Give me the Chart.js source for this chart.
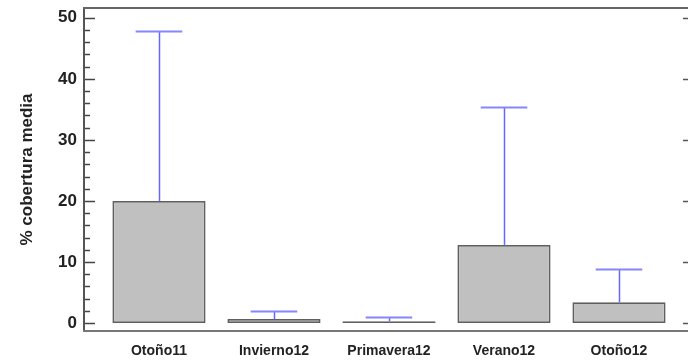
<!DOCTYPE html>
<html>
<head>
<meta charset="utf-8">
<script src="https://cdn.jsdelivr.net/npm/chart.js@4/dist/chart.umd.min.js"></script>
<style>
  html, body { margin: 0; padding: 0; background: #fff; }
  #wrap { width: 688px; height: 362px; }
</style>
</head>
<body>
<div id="wrap"><canvas id="c" width="688" height="362"></canvas></div>
<script>
// Seasons sampled
const categories = ['Otoño11', 'Invierno12', 'Primavera12', 'Verano12', 'Otoño12'];
// Mean cover (%) per season
const means = [20.0, 0.65, 0.3, 12.8, 3.4];
// Standard deviation drawn above each bar
const deviations = [27.9, 1.35, 0.7, 22.6, 5.45];
// Labelled ticks of the value axis
const yTicks = [0, 10, 20, 30, 40, 50];

const FONT = '"Liberation Sans", Arial, sans-serif';

// Frame, inward tick marks and error whiskers
const framePlugin = {
  id: 'frame',
  afterDatasetsDraw(chart) {
    const { ctx, chartArea: a, scales: { y } } = chart;
    const meta = chart.getDatasetMeta(0);

    ctx.save();
    // whiskers: stem from the bar top, cap half as wide as the bar
    meta.data.forEach((bar, i) => {
      const p = bar.getProps(['x', 'y', 'width'], true);
      const top = Math.round(y.getPixelForValue(means[i] + deviations[i])) + 0.5;
      const half = p.width / 4;
      ctx.strokeStyle = '#6666ff';
      ctx.lineWidth = 1.5;
      ctx.beginPath();
      ctx.moveTo(Math.round(p.x) + 0.5, p.y);
      ctx.lineTo(Math.round(p.x) + 0.5, top);
      ctx.stroke();
      ctx.strokeStyle = '#8585ff';
      ctx.lineWidth = 2;
      ctx.beginPath();
      ctx.moveTo(p.x - half, top);
      ctx.lineTo(p.x + half, top);
      ctx.stroke();
    });

    // tick marks on both vertical sides
    for (let v = 0; v <= 50; v += 2) {
      const py = Math.round(y.getPixelForValue(v)) + 0.5;
      const major = yTicks.includes(v);
      ctx.lineWidth = 1.5;
      ctx.strokeStyle = '#444';
      ctx.beginPath();
      ctx.moveTo(a.left, py);
      ctx.lineTo(a.left + (major ? 11 : 6), py);
      ctx.stroke();
      ctx.strokeStyle = major ? '#555' : '#bbb';
      ctx.beginPath();
      ctx.moveTo(a.right + 6, py);
      ctx.lineTo(a.right + 6 - (major ? 11 : 6), py);
      ctx.stroke();
    }

    // frame lines
    ctx.lineWidth = 2;
    ctx.strokeStyle = '#555';
    ctx.beginPath();
    ctx.moveTo(a.left, a.top);
    ctx.lineTo(a.left, a.bottom);
    ctx.stroke();
    ctx.strokeStyle = '#666';
    ctx.beginPath();
    ctx.moveTo(a.left - 1, a.top);
    ctx.lineTo(a.right, a.top);
    ctx.stroke();
    ctx.strokeStyle = '#777';
    ctx.beginPath();
    ctx.moveTo(a.left - 1, a.bottom);
    ctx.lineTo(a.right, a.bottom);
    ctx.stroke();
    ctx.restore();
  }
};

new Chart(document.getElementById('c'), {
  type: 'bar',
  data: {
    datasets: [{
      data: means.map((m, i) => ({ x: i, y: m })),
      backgroundColor: '#c0c0c0',
      borderColor: '#5f5f5f',
      borderWidth: 1.75,
      borderSkipped: false,
      categoryPercentage: 1,
      barPercentage: 0.81
    }]
  },
  options: {
    responsive: false,
    animation: false,
    layout: { padding: { top: 8, right: 0, bottom: 0, left: 0 } },
    plugins: { legend: { display: false }, tooltip: { enabled: false } },
    scales: {
      x: {
        type: 'linear',
        offset: false,
        min: -0.652,
        max: 4.6,
        afterFit(s) { s.height = 31; s.paddingLeft = 0; s.paddingRight = 0; },
        grid: { display: false, drawTicks: false },
        border: { display: false },
        ticks: {
          stepSize: 1,
          includeBounds: false,
          autoSkip: false,
          maxRotation: 0,
          padding: 12,
          color: '#222',
          font: { family: FONT, size: 14, weight: 'bold' },
          callback: v => Number.isInteger(v) ? categories[v] : ''
        }
      },
      y: {
        min: -1.3,
        max: 51.6,
        afterFit(s) { s.width = 84; s.paddingTop = 0; s.paddingBottom = 0; },
        afterBuildTicks(s) { s.ticks = yTicks.map(v => ({ value: v })); },
        grid: { display: false, drawTicks: false },
        border: { display: false },
        ticks: {
          autoSkip: false,
          padding: 7,
          color: '#222',
          font: { family: FONT, size: 17, weight: 'bold' }
        },
        title: {
          display: true,
          text: '% cobertura media',
          color: '#222',
          font: { family: FONT, size: 17, weight: 'bold' },
          padding: { top: 17, bottom: 0 }
        }
      }
    }
  },
  plugins: [framePlugin]
});
</script>
</body>
</html>
